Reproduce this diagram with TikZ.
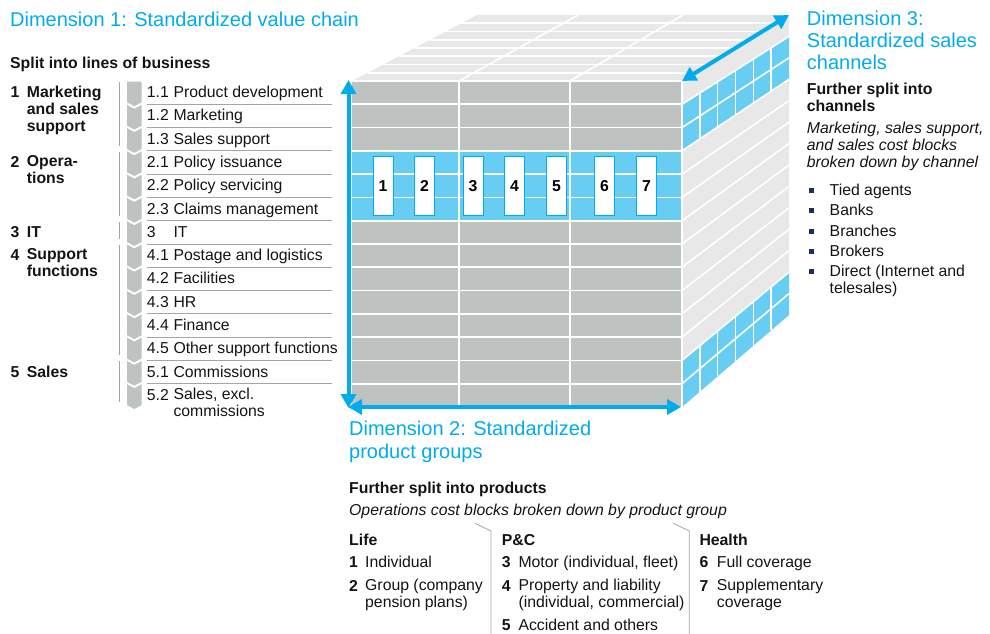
\documentclass[tikz,border=0pt]{standalone}
\usepackage{fontspec}
\setmainfont{Liberation Sans}
\usetikzlibrary{arrows.meta,calc,positioning}
\definecolor{dimblue}{RGB}{0,172,236}
\definecolor{cellblue}{RGB}{104,205,243}
\definecolor{frontgray}{RGB}{190,195,193}
\definecolor{facegray}{RGB}{231,232,231}
\definecolor{rulegray}{RGB}{165,165,165}
\definecolor{inkcolor}{RGB}{20,20,20}
\definecolor{bulletcolor}{RGB}{30,45,95}
% text nodes are placed at the baseline of their first line
\tikzset{
    dimlabel/.style={
        anchor=north west,
        yshift=15.6pt,
        inner sep=0pt,
        align=left,
        text=dimblue,
        font=\fontsize{20}{22.3}\selectfont,
        execute at begin node=\strut
    },
    bodytext/.style={
        anchor=north west,
        yshift=11.9pt,
        inner sep=0pt,
        align=left,
        text=inkcolor,
        font=\fontsize{15.8}{17}\selectfont,
        execute at begin node=\strut
    },
    headtext/.style={bodytext, font=\fontsize{15.8}{17}\selectfont\bfseries},
    notetext/.style={bodytext, font=\fontsize{15.8}{17}\selectfont\itshape},
    numbox/.style={
        rectangle,
        minimum width=20pt,
        minimum height=59pt,
        fill=white,
        draw=dimblue,
        line width=1pt,
        text=black,
        font=\fontsize{15.8}{17}\selectfont\bfseries
    },
    bulletsq/.style={rectangle, fill=bulletcolor, inner sep=0pt, minimum size=5pt},
    gridline/.style={draw=white, line width=1.6pt},
    rowline/.style={draw=rulegray, line width=0.8pt},
    chevron/.style={fill=frontgray},
    dimarrow/.style={
        {Triangle[width=15pt,length=14pt]}-{Triangle[width=15pt,length=14pt]},
        line width=4pt,
        draw=dimblue
    }
}

\begin{document}
\begin{tikzpicture}[x=1pt,y=-1pt]
    \useasboundingbox (0,0) rectangle (990,634);

    % Cube corners
    \coordinate (ftl) at (352,81);
    \coordinate (ftr) at (682,81);
    \coordinate (fbl) at (352,407);
    \coordinate (fbr) at (682,407);
    \coordinate (btl) at (477,15);
    \coordinate (btr) at (789,15);
    \coordinate (bbr) at (789,315);

    % Top face
    \fill[facegray] (ftl) -- (ftr) -- (btr) -- (btl) -- cycle;
    \foreach \k in {1,...,7}
        \draw[gridline] ($(ftl)!{\k/8}!(btl)$) -- ($(ftr)!{\k/8}!(btr)$);
    \foreach \f in {0.3242,0.6606}
        \draw[gridline] ($(ftl)!\f!(ftr)$) -- ($(btl)!\f!(btr)$);

    % Side face (sales channels)
    \fill[facegray] (ftr) -- (btr) -- (bbr) -- (fbr) -- cycle;
    \foreach \k in {0,...,14} {
        \coordinate (rf\k) at ($(ftr)!{\k/14}!(fbr)$);
        \coordinate (rb\k) at ($(btr)!{\k/14}!(bbr)$);
    }
    \fill[cellblue] (rf1) -- (rb1) -- (rb3) -- (rf3) -- cycle;
    \fill[cellblue] (rf12) -- (rb12) -- (rb14) -- (rf14) -- cycle;
    \foreach \k in {1,...,13}
        \draw[gridline] (rf\k) -- (rb\k);
    \foreach \j in {1,...,5} {
        \draw[gridline] ($(rf1)!{\j/6}!(rb1)$) -- ($(rf3)!{\j/6}!(rb3)$);
        \draw[gridline] ($(rf12)!{\j/6}!(rb12)$) -- ($(rf14)!{\j/6}!(rb14)$);
    }

    % Front face (value chain x product groups)
    \fill[frontgray] (ftl) rectangle (fbr);
    \fill[cellblue] ($(ftl)!{3/14}!(fbl)$) rectangle ($(ftr)!{6/14}!(fbr)$);
    \foreach \k in {1,...,13}
        \draw[gridline] ($(ftl)!{\k/14}!(fbl)$) -- ($(ftr)!{\k/14}!(fbr)$);
    \foreach \x in {459,570}
        \draw[gridline] (\x,81) -- (\x,407);
    \draw[gridline] (ftl) -- (ftr) -- (fbr);

    % Product boxes
    \foreach \n/\x in {1/383,2/424.5,3/473,4/514.5,5/556.5,6/604.5,7/646.5}
        \node[numbox] (prod\n) at (\x,185.8) {\n};

    % Dimension arrows
    \coordinate (vtop) at (348.5,80);
    \coordinate (vbot) at (348.5,408);
    \coordinate (hleft) at (348,407);
    \coordinate (hright) at (681,407);
    \draw[dimarrow] (vbot) -- (vtop);
    \draw[dimarrow] (hleft) -- (hright);
    \draw[dimarrow] (ftr) -- (btr);

    % Dimension 1
    \node[dimlabel] (dimone) at (10,26) {Dimension 1: Standardized value chain};
    \node[headtext] (lobhead) at (10,68.3) {Split into lines of business};

    % Value chain steps
    \foreach \i/\num/\lab in {0/1.1/Product development, 1/1.2/Marketing, 2/1.3/Sales support,
        3/2.1/Policy issuance, 4/2.2/Policy servicing, 5/2.3/Claims management, 6/3/IT,
        7/4.1/Postage and logistics, 8/4.2/Facilities, 9/4.3/HR, 10/4.4/Finance,
        11/4.5/Other support functions, 12/5.1/Commissions, 13/5.2/{Sales, excl.\\commissions}} {
        \pgfmathsetmacro{\ya}{81+\i*326/14}
        \pgfmathsetmacro{\yb}{81+(\i+1)*326/14}
        \pgfmathsetmacro{\nd}{\i==0 ? 0 : 4}
        \fill[chevron] (127,{\ya+0.5}) -- (134.3,{\ya+0.5+\nd}) -- (141.7,{\ya+0.5})
            -- (141.7,{\yb-2}) -- (134.3,{\yb+2}) -- (127,{\yb-2}) -- cycle;
        \node[bodytext] (snum\i) at (146.7,{\ya+16.5}) {\num};
        \node[bodytext] (step\i) at (173.3,{\ya+16.5}) {\lab};
    }
    \foreach \i in {1,...,13} {
        \pgfmathsetmacro{\ya}{81+\i*326/14}
        \draw[rowline] (146.7,\ya) -- (332,\ya);
    }

    % Lines of business
    \foreach \g/\first/\last/\lab in {1/0/2/{Marketing\\and sales\\support}, 2/3/5/{Opera-\\tions},
        3/6/6/IT, 4/7/11/{Support\\functions}, 5/12/13/Sales} {
        \pgfmathsetmacro{\ya}{81+\first*326/14}
        \pgfmathsetmacro{\yb}{81+(\last+1)*326/14}
        \draw[rowline] (119.5,{\ya+1}) -- (119.5,{\yb-5});
        \node[headtext] (gnum\g) at (10.5,{\ya+16.5}) {\g};
        \node[headtext] (group\g) at (26.7,{\ya+16.5}) {\lab};
    }

    % Dimension 3
    \node[dimlabel] (dimthree) at (806.7,26) {Dimension 3:\\Standardized sales\\channels};
    \node[headtext] (chanhead) at (806.7,95) {Further split into\\channels};
    \node[notetext] (channote) at (806.7,133.3) {Marketing, sales support,\\and sales cost blocks\\broken down by channel};
    \foreach \c/\y/\lab in {1/195/Tied agents, 2/215/Banks, 3/236/Branches, 4/256/Brokers,
        5/276.7/{Direct (Internet and\\telesales)}} {
        \node[bulletsq] (dot\c) at (811,{\y-5}) {};
        \node[bodytext] (chan\c) at (829.5,\y) {\lab};
    }

    % Dimension 2
    \node[dimlabel] (dimtwo) at (349,436.7) {Dimension 2: Standardized\\product groups};
    \node[headtext] (prodhead) at (349,493.3) {Further split into products};
    \node[notetext] (prodnote) at (349,515) {Operations cost blocks broken down by product group};
    \node[headtext] (life) at (349,545) {Life};
    \node[headtext] (pnc) at (501.7,545) {P\&C};
    \node[headtext] (health) at (699.3,545) {Health};
    \draw[rowline] (475,523.3) -- (491,531) -- (491,634);
    \draw[rowline] (673.3,523.3) -- (689.3,531) -- (689.3,634);
    \foreach \n/\x/\tx/\y/\lab in {1/349/365/567.7/Individual,
        2/349/365/591/{Group (company\\pension plans)},
        3/501.7/518.3/567.7/{Motor (individual, fleet)},
        4/501.7/518.3/591/{Property and liability\\(individual, commercial)},
        5/501.7/518.3/630.7/Accident and others,
        6/699.3/716.7/567.7/Full coverage,
        7/699.3/716.7/591/{Supplementary\\coverage}} {
        \node[headtext] (pnum\n) at (\x,\y) {\n};
        \node[bodytext] (ptext\n) at (\tx,\y) {\lab};
    }
\end{tikzpicture}
\end{document}
